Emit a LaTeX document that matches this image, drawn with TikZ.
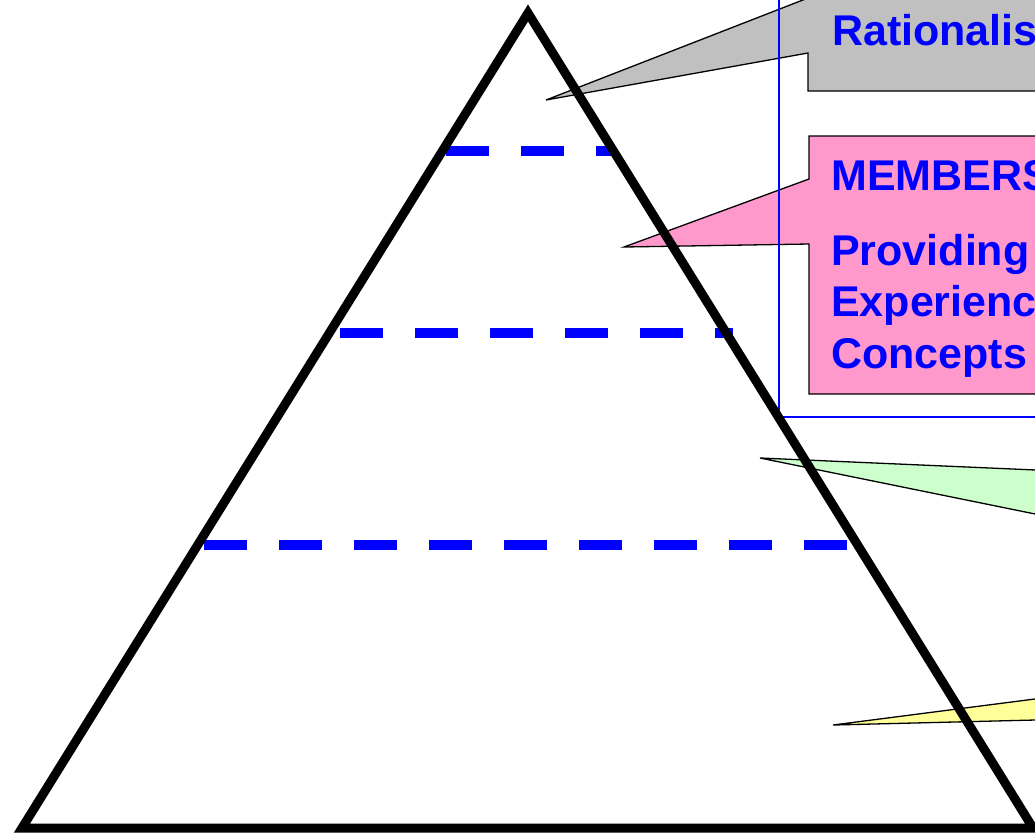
\documentclass[tikz,border=0pt]{standalone}
\usepackage{fontspec}
\setmainfont{Liberation Sans}
\definecolor{balongri}{HTML}{C0C0C0}
\definecolor{balonpembe}{HTML}{FF99CC}
\definecolor{balonyesil}{HTML}{CCFFCC}
\definecolor{balonsari}{HTML}{FFFF99}
\begin{document}
\begin{tikzpicture}[x=1pt, y=-1pt,
    balon/.style={draw=black, line width=1.3pt, line join=miter},
    yazi/.style={anchor=base west, inner sep=0pt, text=blue, font=\fontsize{43}{51.5}\selectfont\bfseries},
    kesik/.style={blue, line width=10pt, dash pattern=on 43pt off 32pt}]
    \useasboundingbox (0,0) rectangle (1035,833);
    \clip (0,0) rectangle (1035,833);

    % Köşeler
    \coordinate (tepe) at (528,13);
    \coordinate (sol) at (22,828);
    \coordinate (sag) at (1033,828);

    % Seviye çizgileri
    \foreach \y/\xa/\xb in {151/446/612, 333/340/733, 544.5/204/847} {
        \draw[kesik] (\xa,\y) -- (\xb,\y);
    }

    % Balonlar
    \fill[balongri] (1100,-20) -- (808,-20) -- (808,-2) -- (546,100) -- (808,53) -- (808,91) -- (1100,91) -- cycle;
    \draw[balon] (808,-20) -- (808,-2) -- (546,100) -- (808,53) -- (808,91) -- (1100,91);
    \draw[balon, fill=balonpembe] (1100,136) -- (809,136) -- (809,179) -- (624,247) -- (809,244) -- (809,394) -- (1100,394);
    \draw[balon, fill=balonyesil] (1100,472.8) -- (760,458) -- (1100,527.2);
    \draw[balon, fill=balonsari] (1100,690.6) -- (833,725) -- (1100,718.4);

    % Çerçeve
    \draw[blue, line width=1.2pt] (779,-20) -- (779,417) -- (1100,417);

    % Piramit
    \draw[line width=9pt, line join=miter] (sol) -- (tepe) -- (sag) -- cycle;

    % Yazılar
    \node[yazi] (rasyonel) at (832,45) {Rationalis};
    \node[yazi] (uyeler) at (831,190) {MEMBERS};
    \node[yazi] (saglama) at (831,265) {Providing};
    \node[yazi] (deneyim) at (831,316.5) {Experienc};
    \node[yazi] (kavram) at (831,368) {Concepts};
\end{tikzpicture}
\end{document}
